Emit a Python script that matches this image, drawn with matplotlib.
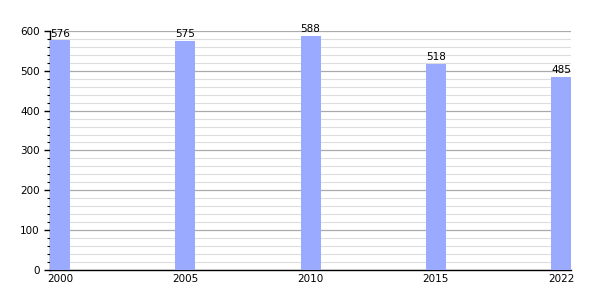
import matplotlib
matplotlib.use('Agg')
import matplotlib.pyplot as plt
from matplotlib.ticker import MultipleLocator

anos = ['2000', '2005', '2010', '2015', '2022']
valores = [576, 575, 588, 518, 485]

fig = plt.figure(figsize=(6, 3), dpi=100)
ax = fig.add_axes([0.0833, 0.1, 0.8687, 0.797])

pos = list(range(len(anos)))
ax.bar(pos, valores, width=0.16, color='#99aaff', zorder=3)
for p, v in zip(pos, valores):
    ax.text(p, v + 4, str(v), ha='center', va='bottom', fontsize=7.5, color='black')

ax.set_xlim(-0.08, len(anos) - 1 + 0.08)
ax.set_ylim(0, 600)
ax.set_xticks(pos)
ax.set_xticklabels(anos, fontsize=7.5)
ax.yaxis.set_major_locator(MultipleLocator(100))
ax.yaxis.set_minor_locator(MultipleLocator(20))
ax.tick_params(axis='y', labelsize=7.5, length=4, width=1)
ax.tick_params(axis='y', which='minor', length=2, width=0.8)
ax.tick_params(axis='x', length=0, pad=3)

ax.grid(axis='y', which='major', color='#aaaaaa', linewidth=0.9, zorder=0)
ax.grid(axis='y', which='minor', color='#dddddd', linewidth=0.8, zorder=0)
ax.spines['top'].set_visible(False)
ax.spines['right'].set_visible(False)
ax.spines['left'].set_linewidth(1)
ax.spines['bottom'].set_linewidth(1)

fig.savefig('out.png', dpi=100)
